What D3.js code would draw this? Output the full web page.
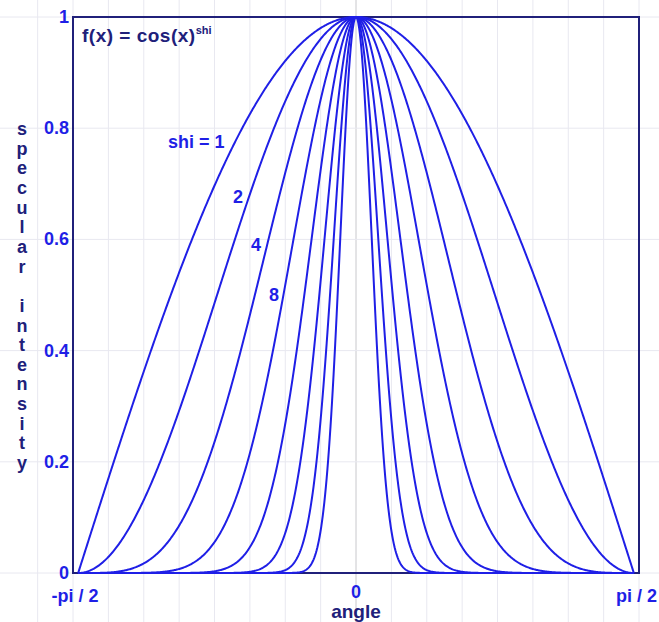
<!DOCTYPE html>
<html>
<head>
<meta charset="utf-8">
<script src="https://cdnjs.cloudflare.com/ajax/libs/d3/7.8.5/d3.min.js"></script>
<style>
  body { margin: 0; background: #fff; }
  .vis { width: 659px; height: 622px; }
  text { font-family: Arial, "Liberation Sans", sans-serif; font-weight: bold; }
</style>
</head>
<body>
<div class="vis"></div>
<script>
(function() {
  'use strict';

  // exponents of the plotted curves f(x) = cos(x)^shi
  var shiValues = [1, 2, 4, 8, 16, 32, 64, 128];
  var curveLabels = ['shi = 1', '2', '4', '8'];
  var yTicks = [0, 0.2, 0.4, 0.6, 0.8, 1];
  var xTicks = [-Math.PI / 2, 0, Math.PI / 2];
  var xTickLabels = ['-pi / 2', '0', 'pi / 2'];
  var yTitle = 'specular intensity';

  var elWidth = 659,
    elHeight = 622,
    blue = '#1f1fe6',
    navy = '#20207a',
    grid = '#e8e8f0';

  var x = d3.scaleLinear().domain([-1.6, 1.6]).range([73, 639]);
  var y = d3.scaleLinear().domain([0, 1]).range([573, 17]);

  var svg = d3.select('.vis').append('svg')
    .attr('width', elWidth)
    .attr('height', elHeight);

  // grid covers the whole picture
  var gx = d3.range(-1.8, 2.01, 0.2);
  var gy = d3.range(-0.2, 1.01, 0.2);
  svg.append('g').selectAll('line').data(gx).enter().append('line')
    .attr('x1', function(d) { return x(d); })
    .attr('x2', function(d) { return x(d); })
    .attr('y1', 0).attr('y2', elHeight)
    .attr('stroke', function(d) { return Math.abs(d) < 1e-6 ? '#c8c8cc' : grid; })
    .attr('stroke-width', 1);
  svg.append('g').selectAll('line').data(gy).enter().append('line')
    .attr('x1', 0).attr('x2', elWidth)
    .attr('y1', function(d) { return y(d); })
    .attr('y2', function(d) { return y(d); })
    .attr('stroke', grid)
    .attr('stroke-width', 1);

  // plot frame
  svg.append('rect')
    .attr('x', x(-1.6)).attr('y', y(1))
    .attr('width', x(1.6) - x(-1.6))
    .attr('height', y(0) - y(1))
    .attr('fill', 'none')
    .attr('stroke', navy)
    .attr('stroke-width', 2);

  // curves
  var angles = d3.range(-Math.PI / 2, Math.PI / 2 + 1e-9, Math.PI / 720);
  var line = d3.line()
    .x(function(d) { return x(d[0]); })
    .y(function(d) { return y(d[1]); });

  svg.append('g').selectAll('path').data(shiValues).enter().append('path')
    .attr('d', function(s) {
      return line(angles.map(function(a) {
        return [a, Math.pow(Math.max(0, Math.cos(a)), s)];
      }));
    })
    .attr('fill', 'none')
    .attr('stroke', blue)
    .attr('stroke-width', 2);

  // y tick labels
  svg.append('g').selectAll('text').data(yTicks).enter().append('text')
    .attr('x', 69)
    .attr('y', function(d) { return y(d) + 6; })
    .attr('text-anchor', 'end')
    .attr('font-size', 18)
    .attr('fill', blue)
    .text(function(d) { return d === 0 || d === 1 ? d : d.toFixed(1); });

  // x tick labels (the last one kept inside the window)
  svg.append('g').selectAll('text').data(xTicks).enter().append('text')
    .attr('x', function(d, i) { return i === 0 ? 75 : i === 2 ? 657 : x(d); })
    .attr('y', function(d, i) { return i === 1 ? 598 : 602; })
    .attr('text-anchor', function(d, i) { return i === 2 ? 'end' : 'middle'; })
    .attr('font-size', 18)
    .attr('fill', blue)
    .text(function(d, i) { return xTickLabels[i]; });

  svg.append('text')
    .attr('x', x(0)).attr('y', 618)
    .attr('text-anchor', 'middle')
    .attr('font-size', 19)
    .attr('fill', navy)
    .text('angle');

  // vertical y title, one letter per line
  svg.append('g').selectAll('text').data(yTitle.split('')).enter().append('text')
    .attr('x', 22)
    .attr('y', function(d, i) { return 135 + i * 19.65; })
    .attr('text-anchor', 'middle')
    .attr('font-size', 18)
    .attr('fill', navy)
    .text(function(d) { return d; });

  // formula
  var f = svg.append('text')
    .attr('x', 82).attr('y', 42)
    .attr('font-size', 19)
    .attr('letter-spacing', 0.5)
    .attr('fill', navy);
  f.append('tspan').text('f(x) = cos(x)');
  f.append('tspan').attr('dy', -8).attr('font-size', 11).attr('letter-spacing', 0).text('shi');

  // curve labels
  var labelPos = [[168, 148], [233, 203], [251, 251], [269, 301]];
  svg.append('g').selectAll('text').data(curveLabels).enter().append('text')
    .attr('x', function(d, i) { return labelPos[i][0]; })
    .attr('y', function(d, i) { return labelPos[i][1]; })
    .attr('font-size', 18)
    .attr('fill', blue)
    .text(function(d) { return d; });

}());
</script>
</body>
</html>
